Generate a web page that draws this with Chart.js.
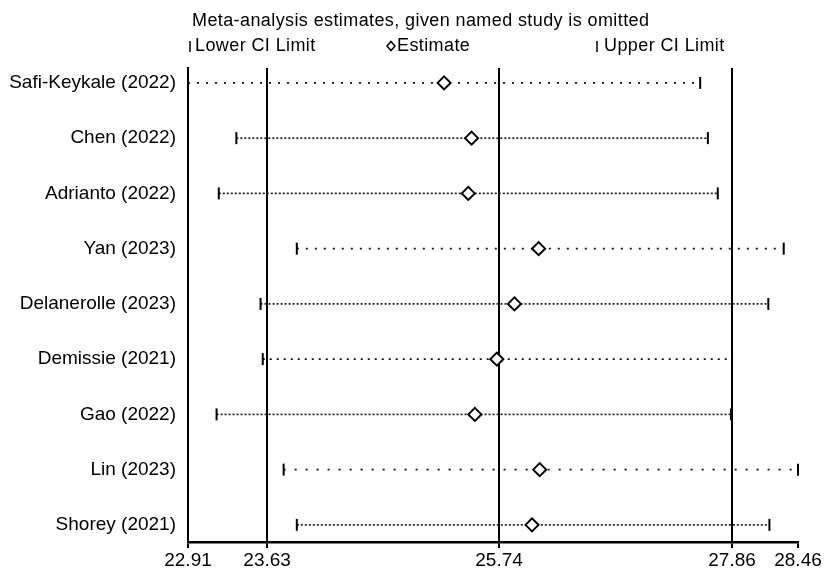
<!DOCTYPE html>
<html>
<head>
<meta charset="utf-8">
<title>Leave-one-out sensitivity analysis</title>
<script src="https://cdn.jsdelivr.net/npm/chart.js@4/dist/chart.umd.min.js"></script>
<style>
  html, body { margin: 0; padding: 0; background: #fff; }
  #wrap { width: 826px; height: 569px; }
</style>
</head>
<body>
<div id="wrap"><canvas id="chart" width="826" height="569"></canvas></div>
<script>
// Omitted study for each row, top to bottom
const studies = [
  'Safi-Keykale (2022)', 'Chen (2022)', 'Adrianto (2022)', 'Yan (2023)',
  'Delanerolle (2023)', 'Demissie (2021)', 'Gao (2022)', 'Lin (2023)', 'Shorey (2021)'
];
// Pooled estimate and 95% CI when the named study is left out
const lowerCI  = [22.91, 23.35, 23.19, 23.90, 23.57, 23.59, 23.17, 23.78, 23.90];
const estimate = [25.24, 25.49, 25.46, 26.10, 25.88, 25.72, 25.52, 26.11, 26.04];
const upperCI  = [27.57, 27.64, 27.73, 28.33, 28.19, 27.86, 27.85, 28.46, 28.20];

// Overall pooled estimate with its CI (reference lines), and axis range ticks
const overall = { lower: 23.63, est: 25.74, upper: 27.86 };
const xTicks = [22.91, 23.63, 25.74, 27.86, 28.46];

const FONT = "'Liberation Sans', Arial, Helvetica, sans-serif";
Chart.defaults.font.family = FONT;
Chart.defaults.color = '#000';

// Some rows are drawn with a sparser dotted pattern
const rowDash = [[2, 7], [2, 2], [2, 2], [2, 7], [2, 2], [2, 5], [2, 2], [2, 9], [2, 2]];

const refValues = [overall.lower, overall.est, overall.upper];

const segmentSets = studies.map((name, i) => ({
  label: name,
  data: [{ x: lowerCI[i], y: i }, { x: upperCI[i], y: i }],
  showLine: true,
  borderColor: '#111',
  borderWidth: 1.6,
  borderDash: rowDash[i],
  pointRadius: 0,
  order: 3,
  clip: false
}));

const tickStyle = {
  pointStyle: 'line',
  rotation: 90,
  pointRadius: 6,
  borderColor: '#000',
  pointBorderWidth: 2,
  order: 2,
  clip: false
};

const datasets = [
  ...segmentSets,
  { label: 'Lower CI Limit', data: lowerCI.map((v, i) => ({ x: v, y: i })), ...tickStyle },
  { label: 'Upper CI Limit', data: upperCI.map((v, i) => ({ x: v, y: i })), ...tickStyle },
  {
    label: 'Estimate',
    data: estimate.map((v, i) => ({ x: v, y: i })),
    pointStyle: 'rectRot',
    pointRadius: 6.5,
    pointBackgroundColor: '#fff',
    pointBorderColor: '#000',
    pointBorderWidth: 2,
    order: 1,
    clip: false
  }
];

// Heading and key drawn above the plot area
const headerPlugin = {
  id: 'header',
  afterDraw(chart) {
    const ctx = chart.ctx;
    ctx.save();
    ctx.fillStyle = '#000';
    ctx.strokeStyle = '#000';
    ctx.textBaseline = 'middle';
    ctx.textAlign = 'left';
    ctx.font = '18px ' + FONT;
    if ('letterSpacing' in ctx) ctx.letterSpacing = '0.4px';
    ctx.fillText('Meta-analysis estimates, given named study is omitted', 192, 21);

    const ky = 46;
    // lower limit key
    ctx.lineWidth = 1.5;
    ctx.beginPath(); ctx.moveTo(190, ky - 5); ctx.lineTo(190, ky + 6); ctx.stroke();
    ctx.fillText('Lower CI Limit', 195, ky);
    // estimate key
    ctx.beginPath();
    ctx.moveTo(391, ky - 4.5); ctx.lineTo(395, ky); ctx.lineTo(391, ky + 4.5); ctx.lineTo(387, ky); ctx.closePath();
    ctx.stroke();
    ctx.fillText('Estimate', 397, ky);
    // upper limit key
    ctx.beginPath(); ctx.moveTo(597, ky - 5); ctx.lineTo(597, ky + 6); ctx.stroke();
    ctx.fillText('Upper CI Limit', 604, ky);
    ctx.restore();
  }
};

new Chart(document.getElementById('chart'), {
  type: 'scatter',
  data: { datasets },
  options: {
    responsive: false,
    animation: false,
    devicePixelRatio: 1,
    layout: { padding: { top: 68, right: 28, bottom: 0, left: 0 } },
    plugins: { legend: { display: false }, tooltip: { enabled: false } },
    scales: {
      x: {
        type: 'linear',
        min: xTicks[0],
        max: xTicks[xTicks.length - 1],
        afterBuildTicks: (scale) => { scale.ticks = xTicks.map(v => ({ value: v })); },
        afterFit: (scale) => { scale.height = 27; },
        ticks: {
          autoSkip: false,
          maxRotation: 0,
          padding: 1,
          font: { size: 19 },
          color: '#000',
          callback: (v) => Number(v).toFixed(2)
        },
        grid: {
          color: (c) => (c.tick && refValues.includes(c.tick.value)) ? '#000' : 'rgba(0,0,0,0)',
          lineWidth: 2,
          drawTicks: true,
          tickLength: 6,
          tickColor: '#000',
          tickWidth: 2
        },
        border: { display: true, color: '#000', width: 2.5 }
      },
      y: {
        type: 'linear',
        reverse: true,
        min: -0.27,
        max: 8.31,
        afterBuildTicks: (scale) => { scale.ticks = studies.map((s, i) => ({ value: i })); },
        afterFit: (scale) => { scale.width = 188; },
        ticks: {
          autoSkip: false,
          padding: 12,
          font: { size: 19 },
          color: '#000',
          callback: (v) => studies[v] ?? ''
        },
        grid: { display: false, drawTicks: false },
        border: { display: true, color: '#000', width: 2 }
      }
    }
  },
  plugins: [headerPlugin]
});
</script>
</body>
</html>
